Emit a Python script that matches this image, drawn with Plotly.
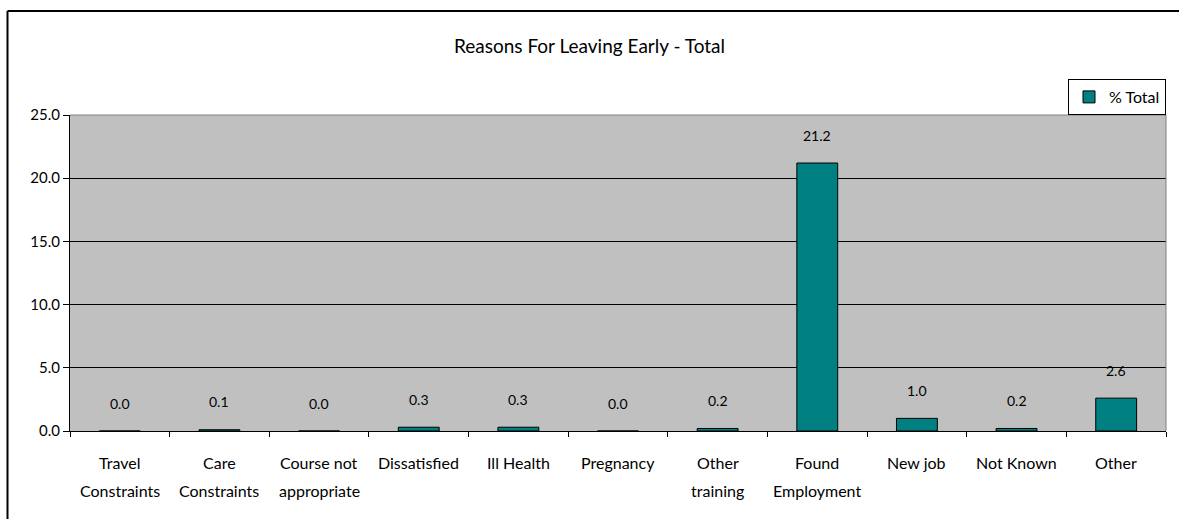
import plotly.graph_objects as go

# Reasons given for leaving early, with the percentage of all leavers
reasons = [
    "Travel\nConstraints", "Care\nConstraints", "Course not\nappropriate",
    "Dissatisfied", "Ill Health", "Pregnancy", "Other\ntraining",
    "Found\nEmployment", "New job", "Not Known", "Other",
]
pct_total = [0.0, 0.1, 0.0, 0.3, 0.3, 0.0, 0.2, 21.2, 1.0, 0.2, 2.6]
y_ticks = [0, 5, 10, 15, 20, 25]

FONT = "Lato"
TEAL = "#008080"

cats = [r.replace("\n", " ") for r in reasons]

fig = go.Figure()
fig.add_trace(go.Bar(
    x=cats, y=pct_total, name="% Total",
    marker=dict(color=TEAL, line=dict(color="black", width=1)),
))

annotations = []
# value labels above each bar
for c, v in zip(cats, pct_total):
    annotations.append(dict(
        x=c, y=v, xref="x", yref="y", text=f"{v:.1f}", showarrow=False,
        yanchor="middle", yshift=28, font=dict(family=FONT, size=14, color="black"),
    ))
# category labels, wrapped onto two rows
for c, r in zip(cats, reasons):
    for i, line in enumerate(r.split("\n")):
        annotations.append(dict(
            x=c, y=0, xref="x", yref="paper", text=line, showarrow=False,
            yanchor="middle", yshift=-31 - 28 * i,
            font=dict(family=FONT, size=16, color="black"),
        ))

fig.update_layout(
    width=1179, height=519,
    margin=dict(l=70, r=13, t=115, b=88),
    paper_bgcolor="white", plot_bgcolor="#C0C0C0",
    bargap=0.59,
    font=dict(family=FONT, size=15, color="black"),
    title=dict(text="Reasons For Leaving Early - Total", x=0.5, xanchor="center",
               y=1 - 46 / 519, yanchor="middle",
               font=dict(family=FONT, size=19, color="black")),
    showlegend=True,
    legend=dict(x=1, xanchor="right", y=1, yanchor="bottom",
                bgcolor="white", bordercolor="black", borderwidth=1,
                font=dict(family=FONT, size=16, color="black"),
                itemwidth=30, tracegroupgap=0),
    xaxis=dict(type="category", showticklabels=False, showgrid=False,
               ticks="outside", tickson="boundaries", ticklen=5, tickcolor="black",
               showline=True, linecolor="black", linewidth=1, zeroline=False),
    yaxis=dict(range=[0, 25], tickvals=y_ticks, tickformat=".1f",
               ticks="outside", ticklen=6, tickcolor="black",
               showgrid=True, gridcolor="black", gridwidth=1,
               showline=True, linecolor="black", linewidth=1, zeroline=False,
               tickfont=dict(family=FONT, size=15, color="black")),
    annotations=annotations,
    shapes=[
        # plot-area frame on top and right
        dict(type="line", xref="paper", yref="paper", x0=0, x1=1, y0=1, y1=1,
             line=dict(color="#808080", width=1), layer="above"),
        dict(type="line", xref="paper", yref="paper", x0=1, x1=1, y0=0, y1=1,
             line=dict(color="#808080", width=1), layer="above"),
        # outer chart border
        dict(type="line", xref="paper", yref="paper",
             x0=(7.5 - 70) / 1096, x1=(1190 - 70) / 1096,
             y0=(431 - 11) / 316, y1=(431 - 11) / 316,
             line=dict(color="black", width=2)),
        dict(type="line", xref="paper", yref="paper",
             x0=(7.5 - 70) / 1096, x1=(7.5 - 70) / 1096,
             y0=(431 - 11) / 316, y1=(431 - 530) / 316,
             line=dict(color="black", width=2)),
    ],
)

fig.write_html("out.html")
